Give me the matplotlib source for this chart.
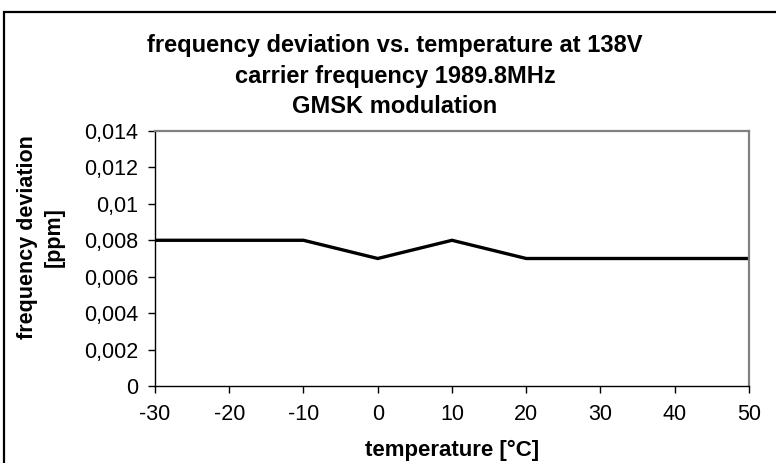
import matplotlib
matplotlib.use('Agg')
import matplotlib.pyplot as plt
from matplotlib.patches import Rectangle

temps = [-30, -20, -10, 0, 10, 20, 30, 40, 50]
deviation = [0.008, 0.008, 0.008, 0.007, 0.008, 0.007, 0.007, 0.007, 0.007]
yticks = [0, 0.002, 0.004, 0.006, 0.008, 0.01, 0.012, 0.014]
ytick_labels = ['0', '0,002', '0,004', '0,006', '0,008', '0,01', '0,012', '0,014']
xticks = [-30, -20, -10, 0, 10, 20, 30, 40, 50]
title_lines = ['frequency deviation vs. temperature at 138V',
               'carrier frequency 1989.8MHz',
               'GMSK modulation']

plt.rcParams['font.family'] = ['Liberation Sans', 'DejaVu Sans']
plt.rcParams['axes.unicode_minus'] = False

fig = plt.figure(figsize=(7.76, 4.63), dpi=100)
ax = fig.add_axes([155/776, 1-386/463, 594/776, 255/463])

ax.plot(temps, deviation, color='black', lw=2.4, solid_joinstyle='miter')

ax.set_xlim(-30, 50)
ax.set_ylim(0, 0.014)
ax.set_xticks(xticks)
ax.set_yticks(yticks)
ax.set_yticklabels(ytick_labels)
ax.tick_params(labelsize=15.5, length=5, width=1, direction='out', color='black')
ax.tick_params(axis='x', pad=8)
ax.tick_params(axis='y', pad=7)

for s in ['top', 'right']:
    ax.spines[s].set_color('#808080')
    ax.spines[s].set_linewidth(1.6)
for s in ['left', 'bottom']:
    ax.spines[s].set_color('black')
    ax.spines[s].set_linewidth(1)

ax.set_xlabel('temperature [°C]', fontsize=16, fontweight='bold', labelpad=11)

# y label sits a bit above the plot centre in the reference
fig.text(41/776, 1 - 237/463, 'frequency deviation\n[ppm]', rotation=90,
         ha='center', va='center', multialignment='center',
         fontsize=15.5, fontweight='bold', linespacing=1.35)

# three title lines, centred on the chart box rather than the plot area
cx = 395/776
for line, base in zip(title_lines, [52, 83, 113]):
    fig.text(cx, 1 - base/463, line, ha='center', va='baseline',
             fontsize=17, fontweight='bold')

# outer chart border (runs off the right and bottom edges)
fig.patches.append(Rectangle((4/776, -0.05), 1.1, 1 - 12/463 + 0.05,
                             transform=fig.transFigure, fill=False,
                             edgecolor='black', lw=1.6, clip_on=False))

fig.savefig('out.png', dpi=100)
